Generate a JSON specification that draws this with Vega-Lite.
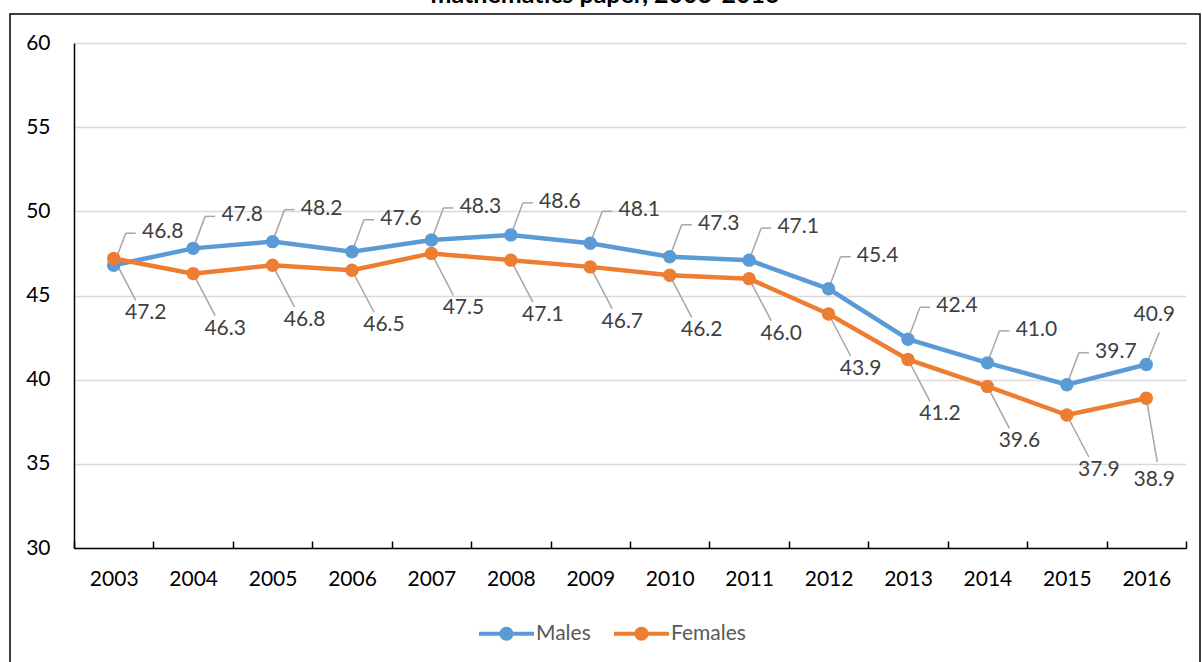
{
  "$schema": "https://vega.github.io/schema/vega-lite/v6.json",
  "width": 1190,
  "height": 668,
  "autosize": {"type": "none"},
  "padding": {"left": 10, "top": 14, "right": 2, "bottom": -20},
  "background": "white",
  "title": {"text": "mathematics paper, 2003-2016", "font": "Lato", "fontSize": 25, "fontWeight": "bold", "color": "#000000", "anchor": "middle", "baseline": "alphabetic", "offset": 0, "dy": 14},
  "config": {"view": {"stroke": "#000000", "strokeWidth": 1.5}, "font": "Lato"},
  "data": {"values": [
    {"year": "2003", "gender": "Males", "value": 46.8},
    {"year": "2004", "gender": "Males", "value": 47.8},
    {"year": "2005", "gender": "Males", "value": 48.2},
    {"year": "2006", "gender": "Males", "value": 47.6},
    {"year": "2007", "gender": "Males", "value": 48.3},
    {"year": "2008", "gender": "Males", "value": 48.6},
    {"year": "2009", "gender": "Males", "value": 48.1},
    {"year": "2010", "gender": "Males", "value": 47.3},
    {"year": "2011", "gender": "Males", "value": 47.1},
    {"year": "2012", "gender": "Males", "value": 45.4},
    {"year": "2013", "gender": "Males", "value": 42.4},
    {"year": "2014", "gender": "Males", "value": 41.0},
    {"year": "2015", "gender": "Males", "value": 39.7},
    {"year": "2016", "gender": "Males", "value": 40.9},
    {"year": "2003", "gender": "Females", "value": 47.2},
    {"year": "2004", "gender": "Females", "value": 46.3},
    {"year": "2005", "gender": "Females", "value": 46.8},
    {"year": "2006", "gender": "Females", "value": 46.5},
    {"year": "2007", "gender": "Females", "value": 47.5},
    {"year": "2008", "gender": "Females", "value": 47.1},
    {"year": "2009", "gender": "Females", "value": 46.7},
    {"year": "2010", "gender": "Females", "value": 46.2},
    {"year": "2011", "gender": "Females", "value": 46.0},
    {"year": "2012", "gender": "Females", "value": 43.9},
    {"year": "2013", "gender": "Females", "value": 41.2},
    {"year": "2014", "gender": "Females", "value": 39.6},
    {"year": "2015", "gender": "Females", "value": 37.9},
    {"year": "2016", "gender": "Females", "value": 38.9}
  ]},
  "encoding": {
    "x": {
      "field": "year", "type": "ordinal",
      "scale": {"type": "band", "paddingInner": 0, "paddingOuter": 0, "range": [64, 1176]},
      "axis": {"title": null, "orient": "bottom", "offset": -134, "grid": false, "domainColor": "#000000", "domainWidth": 1.5, "tickColor": "#000000", "tickWidth": 1.5, "tickSize": -7, "tickBand": "extent", "labelAngle": 0, "labelFont": "Lato", "labelFontSize": 21, "labelColor": "#000000", "labelBaseline": "alphabetic", "labelPadding": 44}
    },
    "y": {
      "field": "value", "type": "quantitative",
      "scale": {"domain": [30, 60], "range": [534, 29], "nice": false, "zero": false},
      "axis": {"title": null, "orient": "left", "offset": -64, "values": [30, 35, 40, 45, 50, 55, 60], "ticks": false, "domainColor": "#000000", "domainWidth": 1.5, "grid": true, "gridColor": "#d9d9d9", "gridWidth": 1.5, "labelFont": "Lato", "labelFontSize": 21, "labelColor": "#000000", "labelPadding": 24}
    },
    "color": {
      "field": "gender", "type": "nominal",
      "scale": {"domain": ["Males", "Females"], "range": ["#5B9BD5", "#ED7D31"]},
      "legend": {
        "orient": "none", "legendX": 486, "legendY": 609, "direction": "horizontal", "title": null, "padding": 0,
        "symbolType": "M-3.93,-0.3L3.93,-0.3L3.93,0.3L-3.93,0.3Z M1,0A1,1 0 1,1 -1,0A1,1 0 1,1 1,0Z",
        "symbolSize": 196, "symbolStrokeWidth": 0, "labelOffset": 19, "columnPadding": 22,
        "labelFont": "Lato", "labelFontSize": 21, "labelColor": "#595959",
        "encode": {"symbols": {"update": {"fill": {"scale": "color", "field": "value"}, "stroke": {"value": "transparent"}, "opacity": {"value": 1}}}}
      }
    }
  },
  "layer": [
    {"mark": {"type": "line", "strokeWidth": 4.5}},
    {
      "transform": [{"filter": "datum.gender == 'Males' && datum.year != '2016'"}],
      "mark": {"type": "rule", "color": "#a6a6a6", "strokeWidth": 1.5, "x2Offset": 12, "y2Offset": -32},
      "encoding": {"x2": {"field": "year"}, "y2": {"field": "value"}, "color": {"value": "#a6a6a6"}}
    },
    {
      "transform": [{"filter": "datum.gender == 'Males' && datum.year != '2016'"}],
      "mark": {"type": "rule", "color": "#a6a6a6", "strokeWidth": 1.5, "xOffset": 12, "yOffset": -32, "x2Offset": 22, "y2Offset": -32},
      "encoding": {"x2": {"field": "year"}, "y2": {"field": "value"}, "color": {"value": "#a6a6a6"}}
    },
    {
      "transform": [{"filter": "datum.gender == 'Males' && datum.year == '2016'"}],
      "mark": {"type": "rule", "color": "#a6a6a6", "strokeWidth": 1.5, "x2Offset": 13, "y2Offset": -32},
      "encoding": {"x2": {"field": "year"}, "y2": {"field": "value"}, "color": {"value": "#a6a6a6"}}
    },
    {
      "transform": [{"filter": "datum.gender == 'Females' && datum.year != '2016'"}],
      "mark": {"type": "rule", "color": "#a6a6a6", "strokeWidth": 1.5, "x2Offset": 22, "y2Offset": 42},
      "encoding": {"x2": {"field": "year"}, "y2": {"field": "value"}, "color": {"value": "#a6a6a6"}}
    },
    {
      "transform": [{"filter": "datum.gender == 'Females' && datum.year == '2016'"}],
      "mark": {"type": "rule", "color": "#a6a6a6", "strokeWidth": 1.5, "x2Offset": 11, "y2Offset": 64},
      "encoding": {"x2": {"field": "year"}, "y2": {"field": "value"}, "color": {"value": "#a6a6a6"}}
    },
    {"mark": {"type": "point", "filled": true, "size": 180, "opacity": 1}},
    {
      "transform": [{"filter": "datum.gender == 'Males' && datum.year != '2016'"}],
      "mark": {"type": "text", "dx": 49, "dy": -33, "fontSize": 21, "font": "Lato", "color": "#404040", "baseline": "middle"},
      "encoding": {"text": {"field": "value", "format": ".1f"}, "color": {"value": "#404040"}}
    },
    {
      "transform": [{"filter": "datum.gender == 'Males' && datum.year == '2016'"}],
      "mark": {"type": "text", "dx": 8, "dy": -50, "fontSize": 21, "font": "Lato", "color": "#404040", "baseline": "middle"},
      "encoding": {"text": {"field": "value", "format": ".1f"}, "color": {"value": "#404040"}}
    },
    {
      "transform": [{"filter": "datum.gender == 'Females' && datum.year != '2016'"}],
      "mark": {"type": "text", "dx": 32, "dy": 55, "fontSize": 21, "font": "Lato", "color": "#404040", "baseline": "middle"},
      "encoding": {"text": {"field": "value", "format": ".1f"}, "color": {"value": "#404040"}}
    },
    {
      "transform": [{"filter": "datum.gender == 'Females' && datum.year == '2016'"}],
      "mark": {"type": "text", "dx": 8, "dy": 82, "fontSize": 21, "font": "Lato", "color": "#404040", "baseline": "middle"},
      "encoding": {"text": {"field": "value", "format": ".1f"}, "color": {"value": "#404040"}}
    }
  ]
}
